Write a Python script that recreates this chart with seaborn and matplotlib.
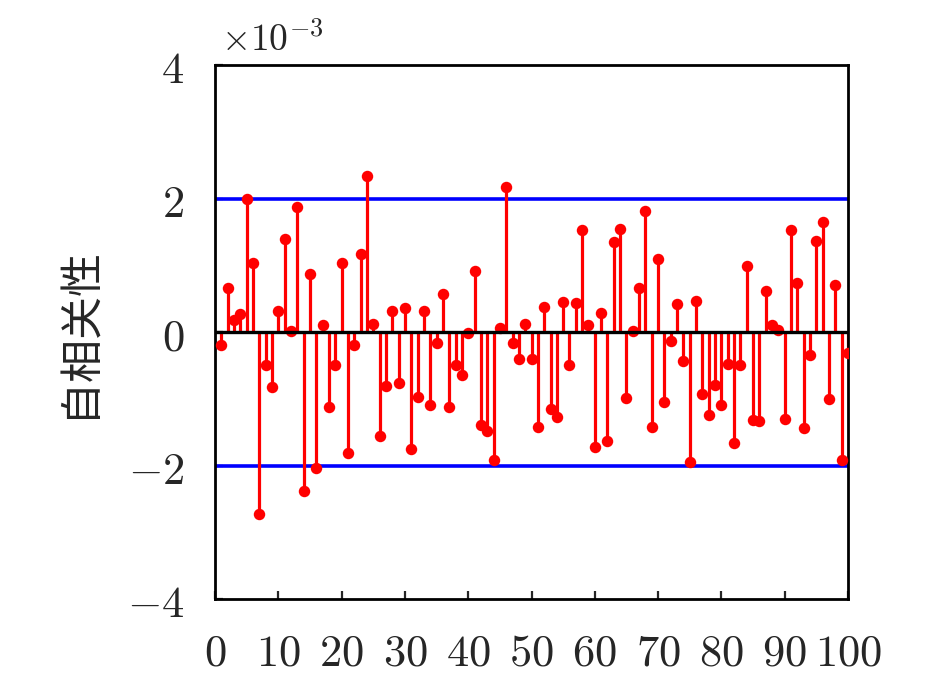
import numpy as np
import pandas as pd
import matplotlib
matplotlib.use("Agg")
import matplotlib.pyplot as plt
import seaborn as sns

# autocorrelation values (x 1e-3) for lags 1..100
lags = list(range(1, 101))
acf = [-0.19, 0.66, 0.18, 0.27, 2.00, 1.04, -2.73, -0.49, -0.83, 0.31,
       1.39, 0.02, 1.88, -2.38, 0.87, -2.03, 0.11, -1.13, -0.49, 1.04,
       -1.82, -0.19, 1.17, 2.34, 0.12, -1.56, -0.81, 0.32, -0.77, 0.36,
       -1.76, -0.98, 0.32, -1.10, -0.16, 0.57, -1.13, -0.49, -0.64, -0.02,
       0.91, -1.40, -1.48, -1.91, 0.06, 2.17, -0.17, -0.40, 0.12, -0.41,
       -1.42, 0.37, -1.16, -1.27, 0.45, -0.49, 0.43, 1.53, 0.11, -1.72,
       0.29, -1.63, 1.35, 1.54, -0.99, 0.01, 0.66, 1.82, -1.43, 1.09,
       -1.05, -0.14, 0.42, -0.44, -1.95, 0.47, -0.93, -1.25, -0.79, -1.10,
       -0.48, -1.66, -0.49, 0.99, -1.32, -1.34, 0.61, 0.10, 0.03, -1.30,
       1.53, 0.74, -1.44, -0.35, 1.37, 1.65, -1.00, 0.71, -1.92, -0.32]
bound = 2.0
xticks = list(range(0, 101, 10))
yticks = [-4, -2, 0, 2, 4]

df = pd.DataFrame({"lag": lags, "acf": acf})

sns.set_style("ticks")
plt.rcParams["font.family"] = ["Noto Sans CJK SC", "DejaVu Sans"]
plt.rcParams["mathtext.fontset"] = "cm"

fig = plt.figure(figsize=(9.45, 6.78), dpi=100)
ax = fig.add_axes([0.2275, 0.1165, 0.6699, 0.7876])

ax.axhline(bound, color="#0000ff", lw=2.6, zorder=1)
ax.axhline(-bound, color="#0000ff", lw=2.6, zorder=1)
ax.vlines(df["lag"], 0, df["acf"], color="#ff0000", lw=2.3, zorder=2)
sns.scatterplot(data=df, x="lag", y="acf", color="#ff0000", s=68,
                edgecolor="#ff0000", linewidth=0, ax=ax, zorder=3)
ax.axhline(0, color="black", lw=2.4, zorder=4)

ax.set_xlim(0, 100)
ax.set_ylim(-4, 4)
ax.set_xticks(xticks)
ax.set_yticks(yticks)
ax.set_xticklabels([r"$%d$" % v for v in xticks])
ax.set_yticklabels([r"$%d$" % v for v in yticks])
ax.tick_params(direction="in", length=6, width=1.6, labelsize=32)
ax.tick_params(axis="x", pad=22)
ax.tick_params(axis="y", pad=22)
for sp in ax.spines.values():
    sp.set_linewidth(2.0)
    sp.set_color("black")
    sp.set_visible(True)

ax.set_xlabel("")
ax.set_ylabel("自相关性", fontsize=31, labelpad=19)
ax.text(0.01, 1.01, r"$\times10^{-3}$", transform=ax.transAxes,
        fontsize=27, ha="left", va="bottom")

fig.savefig("out.png", dpi=100)
